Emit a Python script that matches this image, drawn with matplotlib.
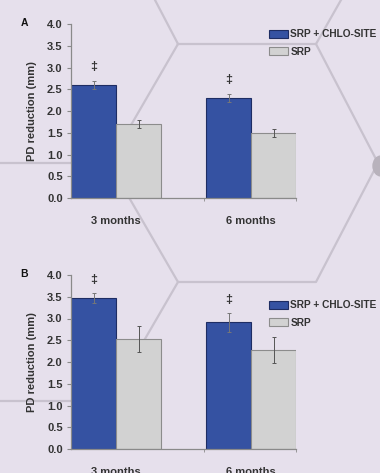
import matplotlib
matplotlib.use('Agg')
import numpy as np
import matplotlib.pyplot as plt
from matplotlib.lines import Line2D
from matplotlib.patches import Circle

# data
categories = ['3 months', '6 months']
series_names = ['SRP + CHLO-SITE', 'SRP']
a_chlo = [2.6, 2.3]
a_chlo_err = [0.1, 0.1]
a_srp = [1.7, 1.5]
a_srp_err = [0.1, 0.09]
b_chlo = [3.47, 2.91]
b_chlo_err = [0.11, 0.21]
b_srp = [2.52, 2.27]
b_srp_err = [0.3, 0.3]
a_marks = ['‡', '‡']
b_marks = ['‡', '‡']
yticks = [0.0, 0.5, 1.0, 1.5, 2.0, 2.5, 3.0, 3.5, 4.0]

W, H = 380, 473
BG = '#e6e0ec'
HEX = '#c8c2ce'
BLUE, BLUE_EDGE = '#3552a2', '#1e2d63'
GREY, GREY_EDGE = '#d2d2d2', '#8c8c8c'
TXT = '#333333'
FONT = 'Liberation Sans'

fig = plt.figure(figsize=(W/100, H/100), dpi=100, facecolor=BG)

def px(x, y):
    return x/W, 1 - y/H

#%% background hexagon decoration (pixel coords)
segs = [[(178, 44), (316, 44), (378, 163), (316, 282), (178, 282), (109, 163), (178, 44)],
        [(155, 0), (178, 44)], [(341, 0), (316, 44)],
        [(0, 163), (109, 163)],
        [(178, 282), (109, 401), (0, 401)]]
for s in segs:
    xs, ys = zip(*[px(*p) for p in s])
    fig.add_artist(Line2D(xs, ys, color=HEX, lw=1.6, zorder=0))
fig.add_artist(Circle(px(381, 166), 8/W, color='#b8b2bc', zorder=0,
                      transform=fig.transFigure))

def panel(top, bottom, letter, chlo, chlo_err, srp, srp_err, marks, leg_top):
    l, r = 71/W, 296/W
    ax = fig.add_axes([l, 1 - bottom/H, r - l, (bottom - top)/H])
    ax.set_facecolor('none')
    x = np.arange(len(categories))
    w = 1/3
    ax.bar(x - w/2, chlo, w, color=BLUE, edgecolor=BLUE_EDGE, lw=0.8, label=series_names[0],
           yerr=chlo_err, error_kw=dict(ecolor='#777777', elinewidth=0.7, capsize=1.2, capthick=0.7))
    ax.bar(x + w/2, srp, w, color=GREY, edgecolor=GREY_EDGE, lw=0.8, label=series_names[1],
           yerr=srp_err, error_kw=dict(ecolor='#555555', elinewidth=0.7, capsize=1.2, capthick=0.7))
    for xi, v, e, m in zip(x, chlo, chlo_err, marks):
        ax.text(xi - w/2, v + e + 0.31, m, ha='center', va='center', fontsize=9,
                color=TXT, family=FONT, fontweight='bold')
    ax.set_xlim(-1/3, 1 + 1/3)
    ax.set_ylim(0, 4)
    ax.set_yticks(yticks)
    ax.set_yticklabels([f'{t:.1f}' for t in yticks], family=FONT, fontweight='bold',
                       fontsize=8, color=TXT)
    ax.set_xticks(x)
    ax.set_xticklabels(categories, family=FONT, fontweight='bold', fontsize=8, color=TXT)
    ax.tick_params(axis='x', length=0, pad=13)
    ax.set_xticks([0, 0.65, 4/3], minor=True)
    ax.tick_params(axis='x', which='minor', length=2.5, color='#8a8a8a')
    ax.tick_params(axis='y', length=3, color='#8a8a8a', pad=3)
    for sp in ('top', 'right'):
        ax.spines[sp].set_visible(False)
    for sp in ('left', 'bottom'):
        ax.spines[sp].set_color('#8a8a8a')
        ax.spines[sp].set_linewidth(0.9)
    ax.set_ylabel('PD reduction (mm)', family=FONT, fontweight='bold', fontsize=8, color=TXT)
    ax.yaxis.set_label_coords(-0.151, 0.5)
    fig.text(*px(24, top - 1), letter, family=FONT, fontweight='bold', fontsize=7.5,
             color='#111111', ha='center', va='center')
    ax.legend(loc='upper left', bbox_to_anchor=px(264, leg_top), bbox_transform=fig.transFigure,
              frameon=False, borderpad=0, handlelength=1.9, handleheight=0.85,
              handletextpad=0.2, labelspacing=0.75,
              prop=dict(family=FONT, weight='bold', size=7.3), labelcolor=TXT)
    return ax

panel(24, 198, 'A', a_chlo, a_chlo_err, a_srp, a_srp_err, a_marks, 24)
panel(275, 449, 'B', b_chlo, b_chlo_err, b_srp, b_srp_err, b_marks, 295)

fig.savefig('out.png', dpi=100, facecolor=BG)
